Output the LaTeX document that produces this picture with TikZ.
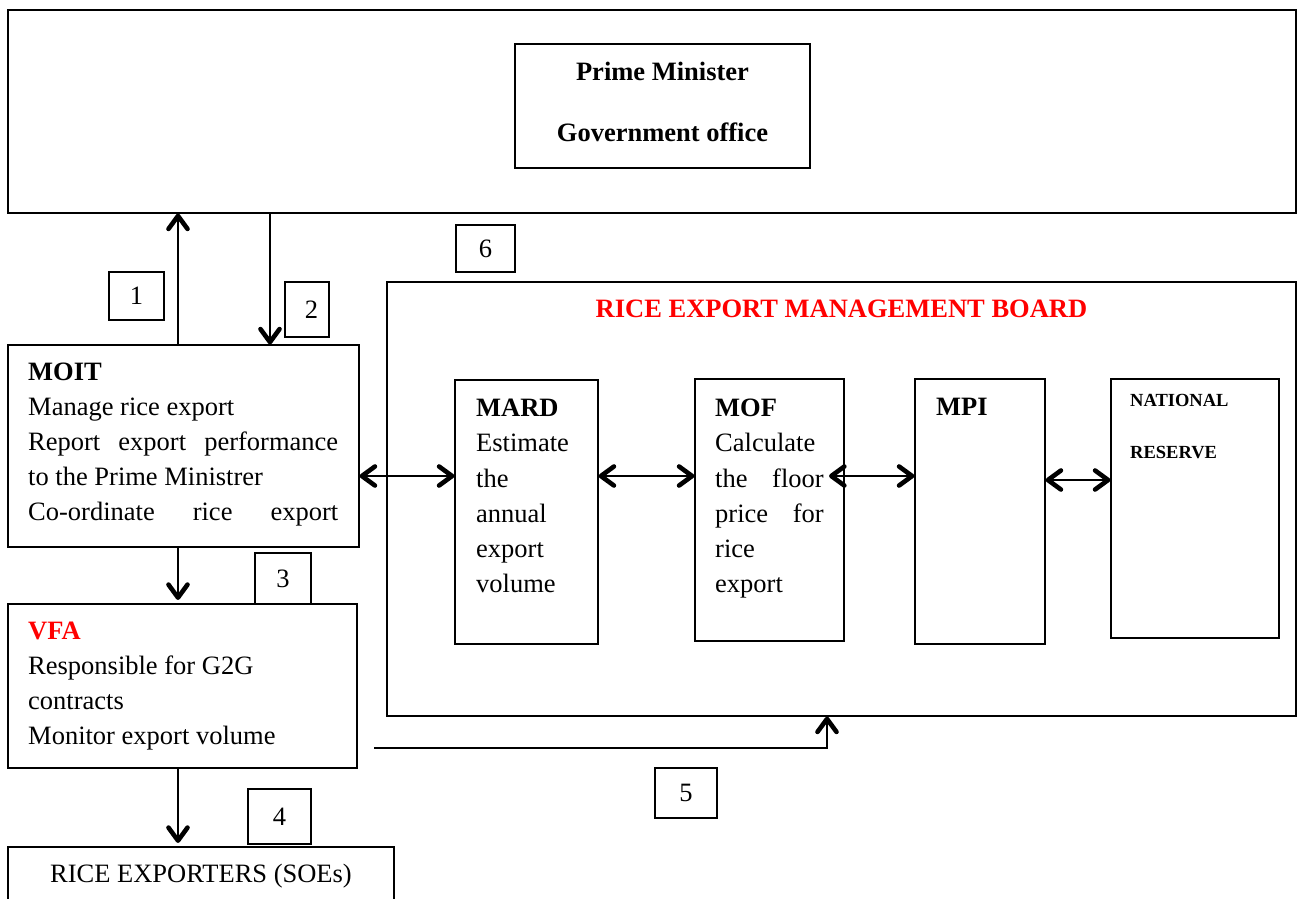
\documentclass[tikz,border=0pt]{standalone}
\usepackage{fontspec}
\setmainfont{Liberation Serif}
\usetikzlibrary{arrows.meta}
\newcommand\bodyfs{\fontsize{26.5}{35.2}\selectfont}
\newcommand\smallfs{\fontsize{18.5}{22}\selectfont}
\begin{document}
\begin{tikzpicture}[x=1pt,y=-1pt,
  box/.style={draw=black, line width=1.2pt, rectangle, inner sep=0pt, font=\bodyfs},
  txt/.style={anchor=base west, inner sep=0pt, font=\bodyfs},
  ctxt/.style={anchor=base, inner sep=0pt, font=\bodyfs},
  tip/.tip={Straight Barb[length=13pt,width=19pt,line width=4.6pt,round]},
  arr/.style={line width=2.6pt, -tip},
  dbl/.style={line width=2pt, tip-tip}
]
\fill[white] (0,0) rectangle (1297,898);
\useasboundingbox (0,0) rectangle (1297,898);

% boxes
\node[box, minimum width=1288pt, minimum height=203pt] (top) at (652,111.5) {};
\node[box, minimum width=295pt, minimum height=124pt] (pm) at (662.5,106) {};
\node[box, minimum width=351pt, minimum height=202pt] (moit) at (183.5,446) {};
\node[box, minimum width=349pt, minimum height=164pt] (vfa) at (182.5,686) {};
\node[box, minimum width=386pt, minimum height=60pt] (exp) at (201,877) {};
\node[box, minimum width=909pt, minimum height=434pt] (board) at (841.5,499) {};
\node[box, minimum width=143pt, minimum height=264pt] (mard) at (526.5,512) {};
\node[box, minimum width=149pt, minimum height=262pt] (mof) at (769.5,510) {};
\node[box, minimum width=130pt, minimum height=265pt] (mpi) at (980,511.5) {};
\node[box, minimum width=168pt, minimum height=259pt] (nat) at (1195,508.5) {};

% number labels
\node[box, minimum width=55pt, minimum height=48pt] (l1) at (136.5,296) {1};
\node[box, minimum width=44pt, minimum height=55pt] (l2) at (307,309.5) {\hspace{9pt}2};
\node[box, minimum width=56pt, minimum height=51pt] (l3) at (283,578.5) {3};
\node[box, minimum width=63pt, minimum height=55pt] (l4) at (279.5,816.5) {4};
\node[box, minimum width=62pt, minimum height=50pt] (l5) at (686,793) {5};
\node[box, minimum width=59pt, minimum height=47pt] (l6) at (485.5,248.5) {6};

% texts
\node[ctxt] (pmt1) at (662.5,80.8) {\textbf{Prime Minister}};
\node[ctxt] (pmt2) at (662.5,141.7) {\textbf{Government office}};
\node[ctxt, text=red] (boardt) at (841.5,317) {\textbf{RICE EXPORT MANAGEMENT BOARD}};
\node[txt] (moitt) at (28,380) {\parbox[t]{310pt}{\textbf{MOIT}\\
  Manage rice export\\
  \makebox[\linewidth][s]{Report export performance}\\
  to the Prime Ministrer\\
  \makebox[\linewidth][s]{Co-ordinate rice export}}};
\node[txt] (vfat) at (28,639) {\parbox[t]{320pt}{\textcolor{red}{\textbf{VFA}}\\
  Responsible for G2G\\
  contracts\\
  Monitor export volume}};
\node[ctxt] (expt) at (201,882.7) {RICE EXPORTERS (SOEs)};
\node[txt] (mardt) at (476,416.7) {\parbox[t]{115pt}{\textbf{MARD}\\
  Estimate\\ the\\ annual\\ export\\ volume}};
\node[txt] (moft) at (715,416.7) {\parbox[t]{108.5pt}{\textbf{MOF}\\
  Calculate\\
  \makebox[\linewidth][s]{the floor}\\
  \makebox[\linewidth][s]{price for}\\
  rice\\ export}};
\node[txt] (mpit) at (936,415) {\textbf{MPI}};
\node[txt, font=\smallfs] (natt1) at (1130,406.7) {\textbf{NATIONAL}};
\node[txt, font=\smallfs] (natt2) at (1130,458.3) {\textbf{RESERVE}};

% helper coordinates
\coordinate (c1) at (178,0);
\coordinate (c2) at (270,0);
\coordinate (c5) at (827,0);
\coordinate (r1) at (0,476);
\coordinate (r2) at (0,480);
\coordinate (s5) at (374,747.5);
\coordinate (m1) at (829,476);

% connectors
\draw[arr] (moit.north -| c1) -- (top.south -| c1);
\draw[arr] (top.south -| c2) -- (moit.north -| c2);
\draw[arr, shorten >=3.5pt] (moit.south -| c1) -- (vfa.north -| c1);
\draw[arr, shorten >=3.5pt] (vfa.south -| c1) -- (exp.north -| c1);
\draw[arr, line width=2pt] (s5) -| (board.south -| c5);
\draw[dbl] (moit.east |- r1) -- (mard.west |- r1);
\draw[dbl] (mard.east |- r1) -- (mof.west |- r1);
\draw[dbl] (m1) -- (mpi.west |- r1);
\draw[dbl] (mpi.east |- r2) -- (nat.west |- r2);
\end{tikzpicture}
\end{document}
